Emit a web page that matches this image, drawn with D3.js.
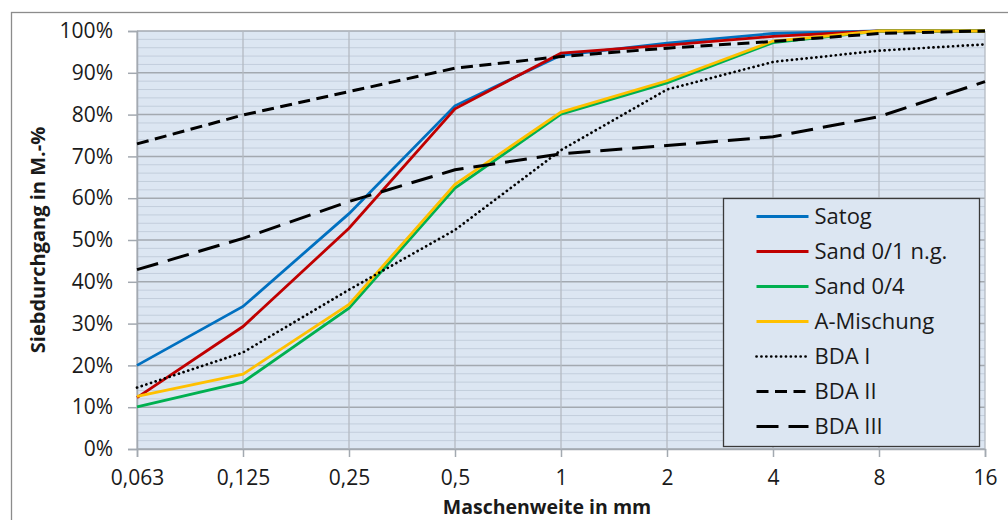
<!DOCTYPE html>
<html>
<head>
<meta charset="utf-8">
<title>Siebdurchgang</title>
<script src="https://d3js.org/d3.v7.min.js"></script>
<style>
  body { margin: 0; background: #fff; }
  text { font-family: "Open Sans", Lato, sans-serif; fill: #1a1a1a; }
</style>
</head>
<body>
<div id="chart"></div>
<script>
// sieve sizes (mm) and passing percentages
var sieves = ["0,063", "0,125", "0,25", "0,5", "1", "2", "4", "8", "16"];
var satog = [20, 34.1, 56.3, 82.1, 94.2, 97.1, 99.4, 100, 100];
var sand01 = [12.3, 29.3, 52.8, 81.4, 94.7, 96.6, 98.7, 100, 100];
var sand04 = [10.1, 16, 33.7, 62.4, 80.1, 87.6, 97.2, 100, 100];
var aMischung = [12.6, 17.9, 34.6, 63.3, 80.6, 88.1, 97.6, 100, 100];
var bda1 = [14.7, 23.1, 38.1, 52.4, 71.5, 86, 92.6, 95.3, 96.8];
var bda2 = [73, 79.9, 85.5, 91.1, 93.9, 95.9, 97.5, 99.4, 100];
var bda3 = [42.9, 50.4, 59.2, 66.8, 70.6, 72.6, 74.7, 79.5, 87.9];
var yTicks = [0, 10, 20, 30, 40, 50, 60, 70, 80, 90, 100];

var series = [
  { name: "Satog", values: satog, color: "#0070c0", dash: null, w: 2.8 },
  { name: "Sand 0/1 n.g.", values: sand01, color: "#c00000", dash: null, w: 2.8 },
  { name: "Sand 0/4", values: sand04, color: "#00b050", dash: null, w: 2.8 },
  { name: "A-Mischung", values: aMischung, color: "#ffc000", dash: null, w: 2.8 },
  { name: "BDA I", values: bda1, color: "#000", dash: "0.1,4.8", w: 2.7 },
  { name: "BDA II", values: bda2, color: "#000", dash: "12,6.5", w: 3 },
  { name: "BDA III", values: bda3, color: "#000", dash: "22,10", w: 3 }
];

var W = 1008, H = 520;
var margin = { top: 31, right: 23, bottom: 71, left: 137 };
var width = W - margin.left - margin.right,
    height = H - margin.top - margin.bottom;

var svg = d3.select("#chart").append("svg")
  .attr("width", W).attr("height", H);

// outer chart frame
svg.append("rect")
  .attr("x", 11.5).attr("y", 12.5)
  .attr("width", 1010).attr("height", 530)
  .attr("fill", "#fff").attr("stroke", "#8c8c8c").attr("stroke-width", 1.3);

var g = svg.append("g")
  .attr("transform", "translate(" + margin.left + "," + margin.top + ")");

var x = d3.scalePoint().domain(sieves).range([0, width]);
var y = d3.scaleLinear().domain([0, 100]).range([height, 0]);

// plot area
g.append("rect").attr("width", width).attr("height", height).attr("fill", "#dce6f2");

// minor gridlines every 2%
g.append("g").selectAll("line")
  .data(d3.range(2, 100, 2).filter(function (d) { return d % 10 != 0; }))
  .enter().append("line")
  .attr("x1", 0).attr("x2", width)
  .attr("y1", function (d) { return y(d); }).attr("y2", function (d) { return y(d); })
  .attr("stroke", "#c3cedc").attr("stroke-width", 1);

// major gridlines
g.append("g").selectAll("line")
  .data(yTicks)
  .enter().append("line")
  .attr("x1", 0).attr("x2", width)
  .attr("y1", function (d) { return y(d); }).attr("y2", function (d) { return y(d); })
  .attr("stroke", "#a3a9b0").attr("stroke-width", 1.5);

g.append("g").selectAll("line")
  .data(sieves)
  .enter().append("line")
  .attr("x1", function (d) { return x(d); }).attr("x2", function (d) { return x(d); })
  .attr("y1", 0).attr("y2", height)
  .attr("stroke", "#b4bac2").attr("stroke-width", 1.3);

// axes
var yAxis = g.append("g")
  .call(d3.axisLeft(y).tickValues(yTicks).tickFormat(function (d) { return d + "%"; })
    .tickSize(9).tickPadding(15));
var xAxis = g.append("g")
  .attr("transform", "translate(0," + height + ")")
  .call(d3.axisBottom(x).tickSize(8).tickPadding(13));

[yAxis, xAxis].forEach(function (a) {
  a.select(".domain").attr("stroke", "#a3a9b0").attr("stroke-width", 1.5);
  a.selectAll(".tick line").attr("stroke", "#a3a9b0").attr("stroke-width", 1.5);
  a.selectAll("text").style("font-size", "21px").style("font-family", "'Open Sans', sans-serif").attr("fill", "#1a1a1a");
});

// curves
var line = d3.line()
  .x(function (d, i) { return x(sieves[i]); })
  .y(function (d) { return y(d); });

series.forEach(function (s) {
  g.append("path")
    .datum(s.values)
    .attr("d", line)
    .attr("fill", "none")
    .attr("stroke", s.color)
    .attr("stroke-width", s.w)
    .attr("stroke-dasharray", s.dash)
    .attr("stroke-linecap", s.name == "BDA I" ? "round" : "butt");
});

// axis titles
svg.append("text")
  .attr("x", 547).attr("y", 514)
  .attr("text-anchor", "middle")
  .style("font-size", "19.5px").style("font-weight", "bold")
  .text("Maschenweite in mm");

svg.append("text")
  .attr("transform", "translate(45," + (margin.top + height / 2) + ") rotate(-90)")
  .attr("text-anchor", "middle")
  .style("font-size", "20px").style("font-weight", "bold")
  .text("Siebdurchgang in M.-%");

// legend
var legend = svg.append("g").attr("transform", "translate(723.5,198.5)");
legend.append("rect")
  .attr("width", 256).attr("height", 248)
  .attr("fill", "#dce6f2").attr("stroke", "#3a3a3a").attr("stroke-width", 1.3);

var rows = legend.selectAll(".row").data(series).enter().append("g")
  .attr("transform", function (d, i) { return "translate(0," + (18 + i * 35) + ")"; });
rows.append("line")
  .attr("x1", 33).attr("x2", 85)
  .attr("stroke", function (d) { return d.color; })
  .attr("stroke-width", function (d) { return d.w; })
  .attr("stroke-dasharray", function (d) { return d.dash; })
  .attr("stroke-linecap", function (d) { return d.name == "BDA I" ? "round" : "butt"; });
rows.append("text")
  .attr("x", 91).attr("dy", "0.35em")
  .style("font-size", "22px")
  .text(function (d) { return d.name; });
</script>
</body>
</html>
